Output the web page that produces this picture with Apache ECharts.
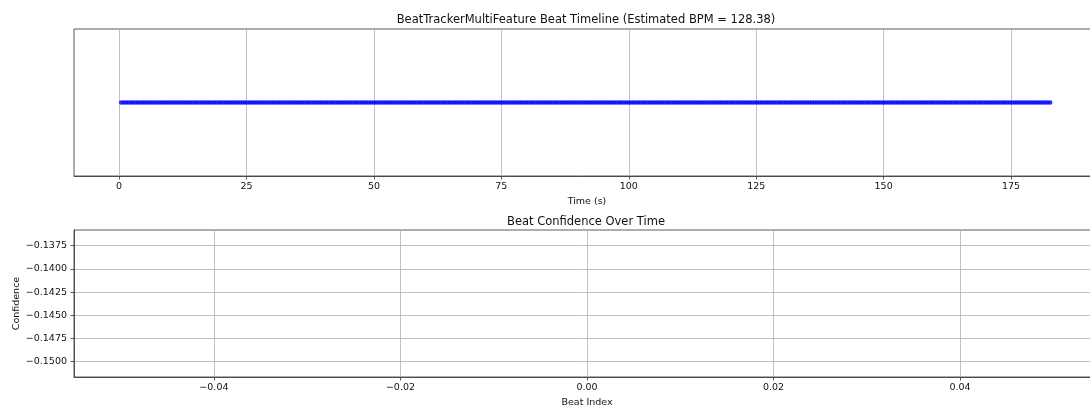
<!DOCTYPE html>
<html>
<head>
<meta charset="utf-8">
<script src="https://cdn.jsdelivr.net/npm/echarts@6/dist/echarts.min.js"></script>
<style>
  html, body { margin: 0; padding: 0; background: #fff; }
  #main { width: 1090px; height: 407px; }
</style>
</head>
<body>
<div id="main"></div>
<script>
var beatTimes = [
  0.40, 0.87, 1.33, 1.80, 2.27, 2.74, 3.20, 3.67, 4.14, 4.61,
  5.07, 5.54, 6.01, 6.48, 6.94, 7.41, 7.88, 8.35, 8.81, 9.28,
  9.75, 10.22, 10.68, 11.15, 11.62, 12.09, 12.55, 13.02, 13.49, 13.95,
  14.42, 14.89, 15.36, 15.82, 16.29, 16.76, 17.23, 17.69, 18.16, 18.63,
  19.10, 19.56, 20.03, 20.50, 20.97, 21.43, 21.90, 22.37, 22.84, 23.30,
  23.77, 24.24, 24.70, 25.17, 25.64, 26.11, 26.57, 27.04, 27.51, 27.98,
  28.44, 28.91, 29.38, 29.85, 30.31, 30.78, 31.25, 31.72, 32.18, 32.65,
  33.12, 33.59, 34.05, 34.52, 34.99, 35.46, 35.92, 36.39, 36.86, 37.32,
  37.79, 38.26, 38.73, 39.19, 39.66, 40.13, 40.60, 41.06, 41.53, 42.00,
  42.47, 42.93, 43.40, 43.87, 44.34, 44.80, 45.27, 45.74, 46.21, 46.67,
  47.14, 47.61, 48.07, 48.54, 49.01, 49.48, 49.94, 50.41, 50.88, 51.35,
  51.81, 52.28, 52.75, 53.22, 53.68, 54.15, 54.62, 55.09, 55.55, 56.02,
  56.49, 56.96, 57.42, 57.89, 58.36, 58.83, 59.29, 59.76, 60.23, 60.69,
  61.16, 61.63, 62.10, 62.56, 63.03, 63.50, 63.97, 64.43, 64.90, 65.37,
  65.84, 66.30, 66.77, 67.24, 67.71, 68.17, 68.64, 69.11, 69.58, 70.04,
  70.51, 70.98, 71.44, 71.91, 72.38, 72.85, 73.31, 73.78, 74.25, 74.72,
  75.18, 75.65, 76.12, 76.59, 77.05, 77.52, 77.99, 78.46, 78.92, 79.39,
  79.86, 80.33, 80.79, 81.26, 81.73, 82.20, 82.66, 83.13, 83.60, 84.06,
  84.53, 85.00, 85.47, 85.93, 86.40, 86.87, 87.34, 87.80, 88.27, 88.74,
  89.21, 89.67, 90.14, 90.61, 91.08, 91.54, 92.01, 92.48, 92.95, 93.41,
  93.88, 94.35, 94.81, 95.28, 95.75, 96.22, 96.68, 97.15, 97.62, 98.09,
  98.55, 99.02, 99.49, 99.96, 100.42, 100.89, 101.36, 101.83, 102.29, 102.76,
  103.23, 103.70, 104.16, 104.63, 105.10, 105.57, 106.03, 106.50, 106.97, 107.43,
  107.90, 108.37, 108.84, 109.30, 109.77, 110.24, 110.71, 111.17, 111.64, 112.11,
  112.58, 113.04, 113.51, 113.98, 114.45, 114.91, 115.38, 115.85, 116.32, 116.78,
  117.25, 117.72, 118.18, 118.65, 119.12, 119.59, 120.05, 120.52, 120.99, 121.46,
  121.92, 122.39, 122.86, 123.33, 123.79, 124.26, 124.73, 125.20, 125.66, 126.13,
  126.60, 127.07, 127.53, 128.00, 128.47, 128.94, 129.40, 129.87, 130.34, 130.80,
  131.27, 131.74, 132.21, 132.67, 133.14, 133.61, 134.08, 134.54, 135.01, 135.48,
  135.95, 136.41, 136.88, 137.35, 137.82, 138.28, 138.75, 139.22, 139.69, 140.15,
  140.62, 141.09, 141.55, 142.02, 142.49, 142.96, 143.42, 143.89, 144.36, 144.83,
  145.29, 145.76, 146.23, 146.70, 147.16, 147.63, 148.10, 148.57, 149.03, 149.50,
  149.97, 150.44, 150.90, 151.37, 151.84, 152.31, 152.77, 153.24, 153.71, 154.17,
  154.64, 155.11, 155.58, 156.04, 156.51, 156.98, 157.45, 157.91, 158.38, 158.85,
  159.32, 159.78, 160.25, 160.72, 161.19, 161.65, 162.12, 162.59, 163.06, 163.52,
  163.99, 164.46, 164.92, 165.39, 165.86, 166.33, 166.79, 167.26, 167.73, 168.20,
  168.66, 169.13, 169.60, 170.07, 170.53, 171.00, 171.47, 171.94, 172.40, 172.87,
  173.34, 173.81, 174.27, 174.74, 175.21, 175.68, 176.14, 176.61, 177.08, 177.54,
  178.01, 178.48, 178.95, 179.41, 179.88, 180.35, 180.82, 181.28, 181.75, 182.22,
  182.69
];
var beatLevel = 1;

// confidence plot: a single point that is not drawn (line with no marker)
var beatIndex = [0];
var confidence = [-0.14373];

// tick labels
var timeTicks = [0, 25, 50, 75, 100, 125, 150, 175];
var beatIndexTicks = [-0.04, -0.02, 0, 0.02, 0.04];
var confidenceTicks = [-0.15, -0.1475, -0.145, -0.1425, -0.14, -0.1375];

var FONT = 'DejaVu Sans';
var TXT = '#111';
var SPINE = '#333';
var GRIDC = '#b0b0b0';

function mpl(v, d) {
    var s = v.toFixed(d);
    if (Math.abs(v) < 1e-12) s = (0).toFixed(d);
    return s.replace('-', '\u2212');
}

var chart = echarts.init(document.getElementById('main'), null, { renderer: 'canvas' });

var tickStyle = { show: true, inside: false, length: 3.5, lineStyle: { color: SPINE, width: 0.8 } };
var labelStyle = { color: TXT, fontFamily: FONT, fontSize: 9.5 };
var spine = { show: true, onZero: false, lineStyle: { color: SPINE, width: 0.8 } };

chart.setOption({
    animation: false,
    backgroundColor: '#fff',
    title: [{
        text: 'BeatTrackerMultiFeature Beat Timeline (Estimated BPM = 128.38)',
        left: 581,
        top: 9,
        textAlign: 'center',
        textStyle: { color: TXT, fontFamily: FONT, fontSize: 11.5, fontWeight: 'normal' }
    }, {
        text: 'Beat Confidence Over Time',
        left: 581,
        top: 211,
        textAlign: 'center',
        textStyle: { color: TXT, fontFamily: FONT, fontSize: 11.5, fontWeight: 'normal' }
    }],
    grid: [
        { left: 74, top: 29, width: 1026, height: 147, show: true, borderColor: SPINE, borderWidth: 0.8, containLabel: false, outerBoundsMode: 'none' },
        { left: 74, top: 230, width: 1026, height: 147, show: true, borderColor: SPINE, borderWidth: 0.8, containLabel: false, outerBoundsMode: 'none' }
    ],
    xAxis: [{
        type: 'value',
        gridIndex: 0,
        min: -8.85,
        max: 192.45,
        name: 'Time (s)',
        nameLocation: 'middle',
        nameGap: 21,
        nameMoveOverlap: false,
        nameTextStyle: labelStyle,
        axisLine: spine,
        axisTick: Object.assign({ customValues: timeTicks }, tickStyle),
        axisLabel: Object.assign({ customValues: timeTicks, margin: 6, formatter: function (v) { return mpl(v, 0); } }, labelStyle),
        splitLine: { show: true, lineStyle: { color: GRIDC, width: 0.8 } }
    }, {
        type: 'value',
        gridIndex: 1,
        min: -0.055,
        max: 0.055,
        name: 'Beat Index',
        nameLocation: 'middle',
        nameGap: 21,
        nameMoveOverlap: false,
        nameTextStyle: labelStyle,
        axisLine: spine,
        axisTick: Object.assign({ customValues: beatIndexTicks }, tickStyle),
        axisLabel: Object.assign({ customValues: beatIndexTicks, margin: 6, formatter: function (v) { return mpl(v, 2); } }, labelStyle),
        splitLine: { show: true, lineStyle: { color: GRIDC, width: 0.8 } }
    }],
    yAxis: [{
        type: 'value',
        gridIndex: 0,
        min: 0.945,
        max: 1.055,
        axisLine: { show: false, onZero: false },
        axisTick: { show: false },
        axisLabel: { show: false },
        splitLine: { show: false }
    }, {
        type: 'value',
        gridIndex: 1,
        min: -0.15165,
        max: -0.13581,
        name: 'Confidence',
        nameLocation: 'middle',
        nameGap: 52,
        nameMoveOverlap: false,
        nameRotate: 90,
        nameTextStyle: labelStyle,
        axisLine: spine,
        axisTick: Object.assign({ customValues: confidenceTicks }, tickStyle),
        axisLabel: Object.assign({ customValues: confidenceTicks, margin: 7, formatter: function (v) { return mpl(v, 4); } }, labelStyle),
        splitLine: { show: true, lineStyle: { color: GRIDC, width: 0.8 } }
    }],
    series: [{
        type: 'scatter',
        xAxisIndex: 0,
        yAxisIndex: 0,
        symbol: 'circle',
        symbolSize: 4.5,
        itemStyle: { color: '#0000ff' },
        data: beatTimes.map(function (t) { return [t, beatLevel]; })
    }, {
        type: 'line',
        xAxisIndex: 1,
        yAxisIndex: 1,
        symbol: 'none',
        showSymbol: false,
        lineStyle: { color: '#1f77b4' },
        data: beatIndex.map(function (b, i) { return [b, confidence[i]]; })
    }]
});
</script>
</body>
</html>
